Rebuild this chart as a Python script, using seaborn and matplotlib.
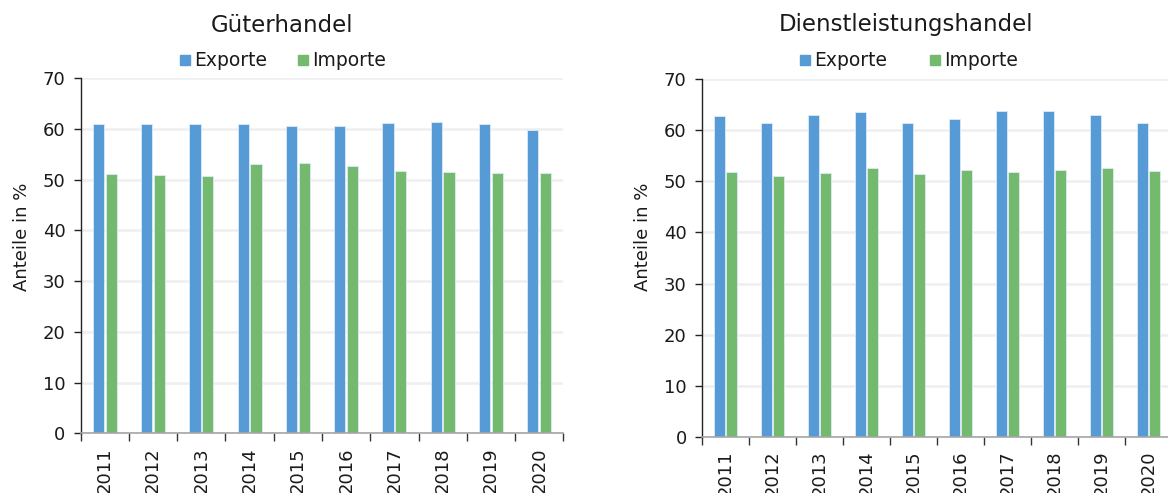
import matplotlib
matplotlib.use("Agg")
import matplotlib.pyplot as plt
import matplotlib.patches as mpatches
import seaborn as sns
import pandas as pd

years = ["2011", "2012", "2013", "2014", "2015", "2016", "2017", "2018", "2019", "2020"]
series_names = ["Exporte", "Importe"]
goods_exports = [61.0, 60.9, 60.9, 61.0, 60.5, 60.5, 61.2, 61.4, 61.0, 59.7]
goods_imports = [51.0, 50.8, 50.7, 53.1, 53.2, 52.7, 51.6, 51.4, 51.3, 51.3]
serv_exports = [62.8, 61.4, 63.0, 63.5, 61.5, 62.2, 63.7, 63.7, 63.0, 61.5]
serv_imports = [51.8, 51.0, 51.6, 52.7, 51.4, 52.3, 51.8, 52.3, 52.6, 52.0]
titles = ["Güterhandel", "Dienstleistungshandel"]
ylabel = "Anteile in %"
yticks = [0, 10, 20, 30, 40, 50, 60, 70]

colors = ["#569BD6", "#74BA6E"]

sns.set_theme(style="white")
plt.rcParams["font.family"] = ["DejaVu Sans"]

fig = plt.figure(figsize=(11.68, 4.93), dpi=100)

panels = [
    dict(rect=[0.0691, 0.1211, 0.4132, 0.7207], exp=goods_exports, imp=goods_imports,
         title=titles[0], tx=282 / 1168, lx=(190 / 1168, 308 / 1168), ylx=22 / 1168),
    dict(rect=[0.601, 0.1142, 0.4024, 0.725], exp=serv_exports, imp=serv_imports,
         title=titles[1], tx=906 / 1168, lx=(810 / 1168, 940 / 1168), ylx=643 / 1168),
]

for p in panels:
    ax = fig.add_axes(p["rect"])
    df = pd.DataFrame({
        "Jahr": years * 2,
        "Serie": [series_names[0]] * len(years) + [series_names[1]] * len(years),
        "Wert": p["exp"] + p["imp"],
    })
    sns.barplot(data=df, x="Jahr", y="Wert", hue="Serie", palette=colors,
                saturation=1, width=0.53, gap=0.12, ax=ax, legend=False,
                edgecolor="#DDEBF7", linewidth=0.6)
    ax.set_ylim(0, 70)
    ax.set_xlim(-0.5, len(years) - 0.5)
    ax.set_yticks(yticks)
    ax.set_yticklabels([str(t) for t in yticks], fontsize=13, color="#1a1a1a")
    ax.yaxis.grid(True, color="#EFEFEF", linewidth=1.8)
    ax.set_axisbelow(True)
    ax.tick_params(axis="y", which="both", left=True, length=5, width=1, color="#222222", pad=6)
    ax.set_xticks(range(len(years)))
    ax.set_xticklabels(years, rotation=90, fontsize=13, color="#1a1a1a")
    ax.tick_params(axis="x", which="major", length=0, pad=10)
    ax.set_xticks([i - 0.5 for i in range(len(years) + 1)], minor=True)
    ax.tick_params(axis="x", which="minor", bottom=True, length=6, width=1, color="#333333")
    for s in ["top", "right"]:
        ax.spines[s].set_visible(False)
    ax.spines["left"].set_color("#222222")
    ax.spines["left"].set_linewidth(1.0)
    ax.spines["bottom"].set_color("#A6A6A6")
    ax.spines["bottom"].set_linewidth(1.2)
    ax.set_xlabel("")
    ax.set_ylabel("")
    fig.text(p["ylx"], 0.52, ylabel, rotation=90, ha="center", va="center",
             fontsize=13, color="#1a1a1a")
    fig.text(p["tx"], 1 - 25 / 493, p["title"], ha="center", va="center",
             fontsize=16.5, color="#1a1a1a")
    for name, c, x in zip(series_names, colors, p["lx"]):
        fig.patches.append(mpatches.Rectangle((x - 10 / 1168, 1 - 65 / 493), 10 / 1168, 10 / 493,
                                              transform=fig.transFigure, color=c, figure=fig))
        fig.text(x + 4 / 1168, 1 - 60 / 493, name, ha="left", va="center",
                 fontsize=13.5, color="#1a1a1a")

fig.savefig("out.png", dpi=100)
